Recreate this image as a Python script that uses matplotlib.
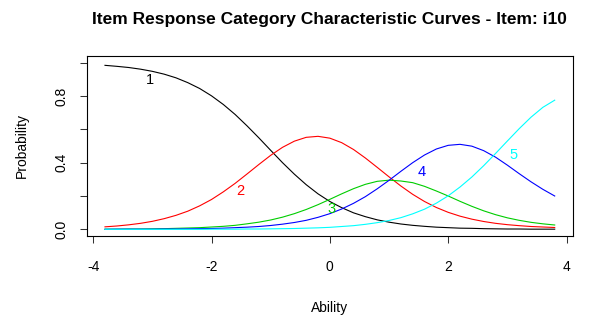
import matplotlib
matplotlib.use("Agg")
import matplotlib.pyplot as plt

plt.rcParams['font.family'] = ['Liberation Sans', 'DejaVu Sans']

# ability grid and category probabilities for item i10
theta = [-3.8, -3.6, -3.4, -3.2, -3.0, -2.8, -2.6, -2.4, -2.2, -2.0,
         -1.8, -1.6, -1.4, -1.2, -1.0, -0.8, -0.6, -0.4, -0.2, 0.0,
         0.2, 0.4, 0.6, 0.8, 1.0, 1.2, 1.4, 1.6, 1.8, 2.0,
         2.2, 2.4, 2.6, 2.8, 3.0, 3.2, 3.4, 3.6, 3.8]

cat1 = [0.984, 0.978, 0.971, 0.961, 0.948, 0.931, 0.909, 0.880, 0.845, 0.801,
        0.749, 0.689, 0.621, 0.549, 0.474, 0.400, 0.331, 0.268, 0.213, 0.167,
        0.130, 0.099, 0.076, 0.057, 0.043, 0.032, 0.024, 0.018, 0.013, 0.010,
        0.007, 0.006, 0.004, 0.003, 0.002, 0.002, 0.001, 0.001, 0.001]
cat2 = [0.015, 0.020, 0.027, 0.036, 0.048, 0.064, 0.084, 0.109, 0.141, 0.179,
        0.225, 0.276, 0.332, 0.389, 0.444, 0.492, 0.529, 0.552, 0.558, 0.547,
        0.520, 0.479, 0.428, 0.372, 0.315, 0.260, 0.210, 0.167, 0.131, 0.102,
        0.079, 0.061, 0.047, 0.036, 0.028, 0.022, 0.017, 0.014, 0.011]
cat3 = [0.001, 0.001, 0.002, 0.002, 0.003, 0.004, 0.006, 0.008, 0.010, 0.014,
        0.018, 0.024, 0.033, 0.043, 0.056, 0.073, 0.094, 0.119, 0.148, 0.180,
        0.213, 0.244, 0.270, 0.288, 0.295, 0.290, 0.280, 0.258, 0.230, 0.200,
        0.168, 0.138, 0.111, 0.088, 0.069, 0.054, 0.042, 0.033, 0.026]
cat4 = [0.000, 0.001, 0.001, 0.001, 0.001, 0.002, 0.002, 0.003, 0.004, 0.005,
        0.007, 0.010, 0.013, 0.017, 0.023, 0.031, 0.041, 0.054, 0.072, 0.094,
        0.122, 0.156, 0.196, 0.243, 0.294, 0.348, 0.400, 0.446, 0.482, 0.504,
        0.510, 0.499, 0.472, 0.433, 0.385, 0.334, 0.285, 0.240, 0.200]
cat5 = [0.000, 0.000, 0.000, 0.000, 0.000, 0.000, 0.000, 0.000, 0.000, 0.001,
        0.001, 0.001, 0.002, 0.002, 0.003, 0.004, 0.005, 0.007, 0.009, 0.012,
        0.017, 0.022, 0.030, 0.040, 0.053, 0.070, 0.093, 0.121, 0.157, 0.201,
        0.254, 0.314, 0.382, 0.455, 0.530, 0.604, 0.673, 0.732, 0.775]

categories = ['1', '2', '3', '4', '5']
colors = ['black', 'red', '#00cd00', 'blue', 'cyan']
# where each category number is written
label_x = [-3.04, -1.51, 0.03, 1.56, 3.10]
label_y = [0.895, 0.231, 0.12, 0.342, 0.446]

fig = plt.figure(figsize=(6.04, 3.2), dpi=100)
ax = fig.add_axes([87 / 604, 1 - 236 / 320, (572.7 - 87) / 604, 180 / 320])

for probs, col in zip([cat1, cat2, cat3, cat4, cat5], colors):
    ax.plot(theta, probs, color=col, lw=0.8)

for lab, lx, ly, col in zip(categories, label_x, label_y, colors):
    ax.text(lx, ly, lab, color=col, fontsize=10.5, ha='center', va='center')

ax.set_xlim(-4.104, 4.104)
ax.set_ylim(-0.04, 1.04)
ax.set_xticks([-4, -2, 0, 2, 4])
ax.set_xticklabels(['-4', '-2', '0', '2', '4'])
ax.set_yticks([0.0, 0.2, 0.4, 0.6, 0.8, 1.0])
ax.set_yticklabels(['0.0', '', '0.4', '', '0.8', ''], rotation=90, va='center')
ax.tick_params(direction='out', length=5, width=0.75, labelsize=10, color='#333333')
ax.tick_params(axis='x', pad=12)
ax.tick_params(axis='y', pad=8)
for sp in ax.spines.values():
    sp.set_linewidth(0.8)

ax.set_xlabel('Ability', fontsize=10, labelpad=20)
ax.set_ylabel('Probability', fontsize=10, labelpad=19)
ax.set_title('Item Response Category Characteristic Curves - Item: i10',
             fontsize=12.5, fontweight='bold', pad=23)

fig.savefig('out.png', dpi=100)
